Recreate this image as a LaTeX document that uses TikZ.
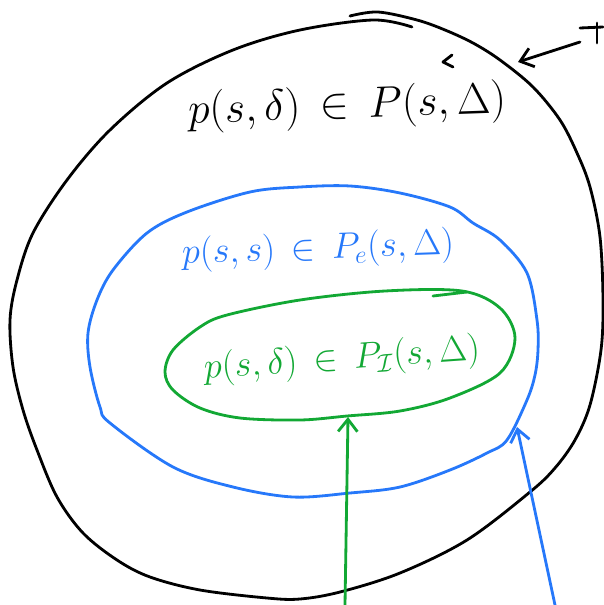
\documentclass[tikz,border=0pt]{standalone}
\usepackage{amsmath,amssymb}
\usetikzlibrary{arrows.meta}
\definecolor{penblue}{RGB}{38,120,250}
\definecolor{pengreen}{RGB}{18,168,52}

\begin{document}
\begin{tikzpicture}[
  x=0.02cm, y=-0.02cm,
  pen/.style={line width=1.6pt, line cap=round, line join=round},
  lbl/.style={inner sep=0pt},
  arr/.style={-{Straight Barb[length=7pt, width=11pt, line width=1.6pt]}, pen}
]
\useasboundingbox (0,0) rectangle (603,605);

% the three sets, drawn freehand
\draw[pen] plot[smooth, tension=0.55] coordinates {
  (350,16) (378,12) (417,20) (445,30) (473,43) (500,60) (533,87) (560,120)
  (577,153) (590,187) (600,237) (603,300) (601,350) (590,405) (575,440)
  (555,468) (530,492) (467,540) (400,573) (340,592) (300,599) (267,598)
  (200,590) (150,577) (117,560) (83,533) (57,497) (37,450) (23,410)
  (13,367) (10,320) (17,280) (33,233) (67,180) (110,130) (167,83)
  (233,50) (300,30) (373,20) (412,27)};
\draw[pen, penblue] plot[smooth cycle, tension=0.55] coordinates {
  (300,187) (350,186) (400,193) (450,207) (473,223) (500,240) (527,273)
  (537,320) (538,350) (535,375) (527,400) (507,440) (487,453) (450,470)
  (400,487) (350,493) (293,497) (233,487) (173,467) (110,423) (100,407)
  (90,367) (88,333) (97,300) (113,270) (147,233) (187,212) (250,192)};
\draw[pen, pengreen] plot[smooth cycle, tension=0.55] coordinates {
  (300,300) (385,291) (462,291) (500,308) (515,338) (500,373) (450,398)
  (400,411) (347,416) (300,420) (240,418) (200,408) (173,390) (165,372)
  (173,350) (200,327) (227,315)};

% labels
\node[lbl, rotate=2, font=\fontsize{23}{27}\selectfont] (lblP) at (347,107)
  {$p(s,\delta)\,\in\,P(s,\Delta)$};
\node[lbl, rotate=2, text=penblue, font=\fontsize{22}{26}\selectfont] (lblPe) at (318,250)
  {$p(s,s)\,\in\,P_e(s,\Delta)$};
\node[lbl, rotate=4, text=pengreen, font=\fontsize{22}{26}\selectfont] (lblPI) at (342,360)
  {$p(s,\delta)\,\in\,P_{\mathcal{I}}(s,\Delta)$};

% pointers
\coordinate (gtail) at (345,605);
\coordinate (gtip) at (348,417);
\coordinate (btail) at (555,605);
\coordinate (btip) at (517,427);
\coordinate (ktail) at (580,42);
\coordinate (ktip) at (518,62);
\draw[arr, pengreen] (gtail) -- (gtip);
\draw[arr, penblue] (btail) -- (btip);
\draw[arr] (ktail) -- (ktip);

% stray pen marks
\draw[pen] (452,55) -- (443,62) -- (453,67);
\draw[pen] (580,28) -- (603,27);
\draw[pen] (597,23) -- (597,43);
\draw[pen, pengreen] (433,296) -- (467,292);
\end{tikzpicture}
\end{document}
